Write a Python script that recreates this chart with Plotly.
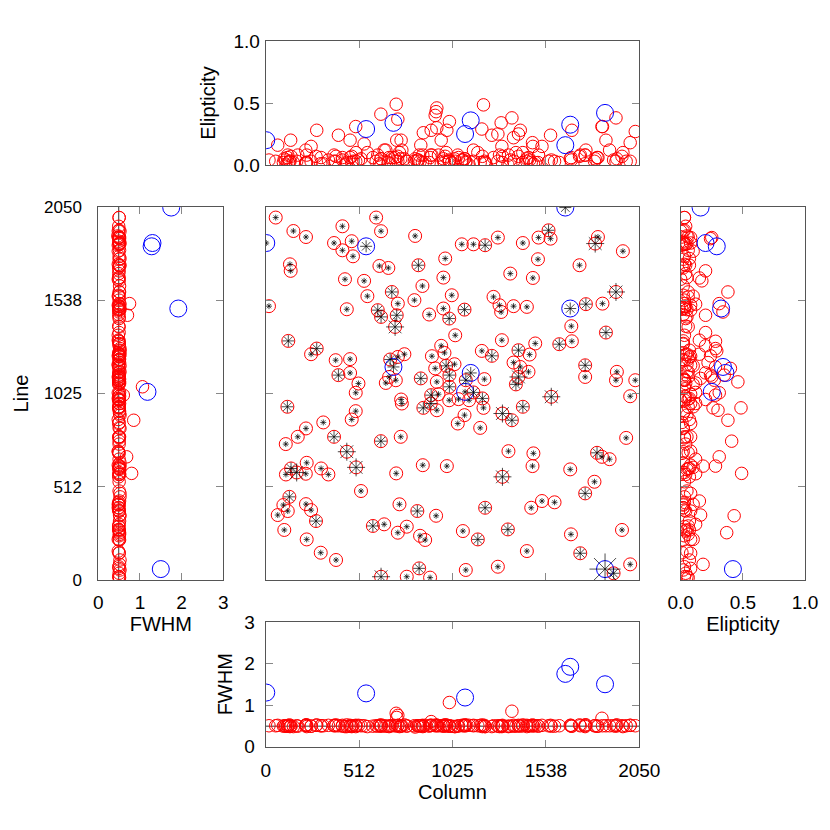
import plotly.graph_objects as go

# ---------------- data ----------------
red_col = [
    55, 152, 221, 421, 606, 633, 820, 375, 472, 421,
    479, 133, 137, 624, 673, 838, 985, 435, 540, 975,
    860, 692, 558, 816, 1021, 725, 18, 445, 615, 633,
    719, 897, 975, 1007, 1040, 124, 280, 249, 384, 463,
    399, 463, 509, 494, 683, 725, 761, 659, 714, 677,
    912, 963, 981, 930, 990, 1036, 851, 939, 1008, 1008,
    908, 948, 743, 1076, 1140, 1204, 1274, 1411, 1497, 1552,
    1563, 1823, 1808, 1960, 1494, 1722, 1342, 1466, 1922, 1250,
    1283, 1292, 1360, 1433, 1091, 1757, 1848, 1677, 1296, 1479,
    1387, 1611, 1680, 1867, 1186, 1241, 1448, 1360, 1397, 1442,
    1387, 1373, 1200, 1098, 1753, 1753, 1927, 1922, 2028, 1140,
    1007, 1058, 1116, 1189, 1195, 1091, 1054, 1177, 1299, 1351,
    1411, 1567, 2000, 1978, 1332, 1469, 1464, 1818, 1845, 1887,
    1671, 994, 1299, 1804, 1753, 1204, 1457, 1516, 1585, 1082,
    1164, 1329, 1675, 1955, 1433, 1726, 1098, 1274, 1909, 2000,
    119, 747, 494, 472, 316, 221, 176, 110, 375, 632,
    741, 865, 906, 939, 445, 496, 225, 139, 170, 220,
    111, 304, 344, 862, 716, 523, 130, 97, 121, 66,
    221, 249, 276, 102, 734, 832, 935, 588, 650, 725,
    774, 847, 875, 225, 302, 386, 633, 774, 902, 842,
    710,
]
red_line = [
    1992, 1918, 1885, 1944, 1992, 1917, 1891, 1852, 1862, 1812,
    1779, 1735, 1699, 1726, 1715, 1730, 1767, 1653, 1644, 1662,
    1616, 1583, 1560, 1538, 1565, 1519, 1505, 1488, 1483, 1446,
    1455, 1459, 1492, 1437, 1345, 1314, 1272, 1241, 1208, 1214,
    1126, 1138, 1080, 1029, 1212, 1226, 1241, 1083, 1098, 1116,
    1230, 1287, 1248, 1163, 1177, 1186, 1108, 1089, 1126, 1062,
    1016, 1021, 992, 1845, 1845, 1840, 1882, 1852, 1882, 1922,
    1876, 1885, 1849, 1807, 1763, 1730, 1684, 1660, 1583, 1556,
    1510, 1473, 1505, 1501, 1486, 1516, 1519, 1395, 1318, 1300,
    1263, 1296, 1312, 1360, 1259, 1232, 1239, 1195, 1171, 1144,
    1116, 1075, 1104, 1098, 1180, 1116, 1144, 1098, 1098, 1031,
    988, 994, 988, 998, 946, 906, 860, 836, 915, 878,
    952, 1007, 1010, 781, 708, 696, 626, 699, 677, 664,
    608, 626, 567, 540, 476, 397, 397, 434, 427, 269,
    223, 278, 251, 275, 159, 147, 55, 73, 37, 86,
    952, 970, 928, 882, 866, 833, 787, 747, 787, 763,
    787, 946, 970, 933, 705, 619, 644, 613, 591, 584,
    580, 613, 580, 631, 586, 489, 457, 412, 379, 357,
    417, 384, 324, 275, 416, 379, 353, 297, 306, 260,
    293, 243, 220, 223, 150, 110, 18, 18, 13, 64,
    1391,
]
# brightness class of each star (drives the asterisk size)
red_bright = [
    1, 1, 1, 1, 1, 1, 1, 1, 1, 1,
    1, 1, 1, 1, 1, 2, 1, 1, 1, 1,
    1, 2, 1, 1, 1, 1, 1, 1, 2, 2,
    2, 1, 1, 2, 1, 2, 2, 1, 1, 1,
    2, 1, 1, 1, 2, 1, 1, 1, 1, 1,
    1, 1, 1, 1, 2, 1, 2, 1, 2, 2,
    2, 1, 1, 1, 1, 2, 1, 1, 1, 2,
    1, 1, 3, 1, 1, 1, 1, 1, 3, 1,
    1, 1, 1, 1, 2, 2, 1, 1, 1, 1,
    2, 2, 1, 2, 1, 2, 1, 1, 1, 1,
    3, 2, 1, 2, 2, 1, 1, 1, 1, 2,
    1, 1, 1, 2, 1, 1, 1, 1, 3, 2,
    2, 3, 1, 1, 1, 1, 1, 2, 1, 1,
    1, 1, 3, 1, 2, 2, 1, 1, 1, 1,
    2, 2, 1, 1, 1, 2, 1, 1, 2, 1,
    2, 1, 1, 1, 1, 1, 1, 1, 2, 2,
    1, 2, 2, 1, 3, 3, 1, 2, 3, 1,
    1, 1, 1, 1, 1, 1, 2, 1, 1, 1,
    1, 1, 2, 1, 1, 2, 1, 2, 1, 1,
    1, 1, 1, 1, 1, 1, 3, 1, 1, 2,
    3,
]
red_ell = [
    0.03, 0.02, 0.01, 0.04, 0.03, 0.00, 0.05, 0.08, 0.02, 0.06,
    0.03, 0.03, 0.20, 0.01, 0.02, 0.04, 0.07, 0.00, 0.17, 0.05,
    0.02, 0.06, 0.10, 0.03, 0.02, 0.03, 0.04, 0.01, 0.08, 0.05,
    0.20, 0.02, 0.03, 0.04, 0.03, 0.02, 0.28, 0.15, 0.03, 0.06,
    0.24, 0.20, 0.04, 0.31, 0.01, 0.07, 0.05, 0.12, 0.03, 0.06,
    0.08, 0.20, 0.02, 0.40, 0.10, 0.05, 0.16, 0.46, 0.35, 0.03,
    0.28, 0.08, 0.20, 0.04, 0.03, 0.01, 0.25, 0.02, 0.08, 0.03,
    0.24, 0.06, 0.05, 0.10, 0.02, 0.07, 0.04, 0.15, 0.38, 0.06,
    0.08, 0.34, 0.03, 0.03, 0.05, 0.12, 0.31, 0.04, 0.15, 0.02,
    0.07, 0.02, 0.28, 0.20, 0.29, 0.24, 0.04, 0.22, 0.28, 0.06,
    0.25, 0.10, 0.03, 0.03, 0.08, 0.01, 0.05, 0.03, 0.27, 0.12,
    0.03, 0.06, 0.00, 0.07, 0.485, 0.05, 0.08, 0.02, 0.02, 0.38,
    0.10, 0.04, 0.03, 0.03, 0.08, 0.01, 0.18, 0.06, 0.31, 0.12,
    0.05, 0.28, 0.07, 0.03, 0.08, 0.02, 0.02, 0.15, 0.03, 0.04,
    0.10, 0.00, 0.06, 0.07, 0.05, 0.08, 0.02, 0.03, 0.04, 0.18,
    0.06, 0.12, 0.03, 0.07, 0.01, 0.02, 0.08, 0.04, 0.03, 0.41,
    0.05, 0.26, 0.08, 0.30, 0.02, 0.10, 0.02, 0.07, 0.03, 0.12,
    0.00, 0.06, 0.04, 0.08, 0.49, 0.05, 0.03, 0.02, 0.08, 0.16,
    0.02, 0.03, 0.07, 0.05, 0.10, 0.04, 0.43, 0.06, 0.12, 0.37,
    0.03, 0.03, 0.02, 0.08, 0.01, 0.07, 0.05, 0.03, 0.06, 0.08,
    0.06,
]
red_fwhm = [
    0.50, 0.48, 0.51, 0.49, 0.50, 0.52, 0.47, 0.50, 0.49, 0.51,
    0.50, 0.48, 0.50, 0.51, 0.49, 0.50, 0.52, 0.48, 0.50, 0.49,
    0.51, 0.50, 0.48, 0.50, 0.49, 0.75, 0.50, 0.52, 0.49, 0.50,
    0.70, 0.49, 0.51, 0.50, 0.48, 0.50, 0.52, 0.49, 0.50, 0.51,
    0.50, 0.49, 0.51, 0.48, 0.50, 0.50, 0.52, 0.49, 0.50, 0.48,
    0.51, 0.50, 0.49, 0.50, 0.52, 0.48, 0.50, 0.51, 0.49, 1.06,
    0.60, 0.50, 0.49, 0.51, 0.50, 0.48, 0.50, 0.52, 0.49, 0.50,
    0.51, 0.49, 0.50, 0.48, 0.50, 0.52, 0.49, 0.50, 0.51, 0.50,
    0.48, 0.50, 0.49, 0.51, 0.50, 0.52, 0.50, 0.49, 0.48, 0.50,
    0.51, 0.50, 0.49, 0.50, 0.52, 0.48, 0.50, 0.51, 0.49, 0.50,
    0.50, 0.49, 0.51, 0.50, 0.48, 0.50, 0.52, 0.49, 0.50, 0.51,
    0.49, 0.50, 0.51, 0.48, 0.50, 0.52, 0.49, 0.50, 0.51, 0.85,
    0.50, 0.49, 0.51, 0.50, 0.48, 0.50, 0.52, 0.49, 0.68, 0.50,
    0.51, 0.50, 0.49, 0.50, 0.52, 0.48, 0.50, 0.51, 0.49, 0.50,
    0.50, 0.49, 0.51, 0.50, 0.48, 0.50, 0.52, 0.49, 0.50, 0.51,
    0.49, 0.50, 0.51, 0.48, 0.50, 0.52, 0.49, 0.50, 0.51, 0.50,
    0.50, 0.49, 0.51, 0.50, 0.48, 0.50, 0.52, 0.49, 0.50, 0.51,
    0.49, 0.50, 0.51, 0.48, 0.80, 0.50, 0.52, 0.49, 0.50, 0.51,
    0.50, 0.49, 0.51, 0.50, 0.48, 0.50, 0.52, 0.49, 0.50, 0.51,
    0.49, 0.50, 0.51, 0.48, 0.50, 0.52, 0.49, 0.50, 0.51, 0.50,
    0.50,
]

blue_col = [3, 551, 701, 1094, 1125, 1644, 1671, 1862]
blue_line = [1852, 1834, 1171, 1034, 1138, 2047, 1492, 60]
blue_ell = [0.20, 0.29, 0.34, 0.25, 0.36, 0.16, 0.325, 0.42]
blue_fwhm = [1.30, 1.28, None, 1.18, None, 1.75, 1.92, 1.50]
blue_bright = [1, 2, 2, 1, 2, 2, 2, 4]

median_fwhm = 0.49

pos_ticks = [0, 512.5, 1025, 1537.5, 2050]
pos_text = ["0", "512", "1025", "1538", "2050"]
ell_ticks = [0, 0.5, 1.0]
ell_text = ["0.0", "0.5", "1.0"]
fwhm_ticks = [0, 1, 2, 3]
fwhm_text = ["0", "1", "2", "3"]

# ---------------- styling ----------------
assert len(red_col) == len(red_line) == len(red_bright) == len(red_ell) == len(red_fwhm)

OFF = 8          # default page margin of the html body
W = 814          # figure size, so that OFF + W fits the 830 window
FAMILY = "Liberation Sans, Arial, Helvetica, sans-serif"
TITLE_FONT = dict(family=FAMILY, size=20, color="black")
RED = "rgb(255,0,0)"
BLUE = "rgb(0,0,255)"
AST_SIZE = {1: 5, 2: 10, 3: 15, 4: 26}


def dx(a, b):
    return [(a - OFF) / W, (b - OFF) / W]


def dy(top, bottom):
    return [1 - (bottom - OFF) / W, 1 - (top - OFF) / W]


DOM_MX = dx(265.7, 639.3)
DOM_MY = dy(207, 580)
DOM_TOPY = dy(41, 165)
DOM_LX = dx(98.3, 223.3)
DOM_RX = dx(680.7, 805)
DOM_BOTY = dy(622, 746.5)


def ax(domain, rng, anchor, tickvals, ticktext, labels, title=None, standoff=5,
       tsize=19, lab_off=2):
    d = dict(
        domain=domain, range=rng, anchor=anchor,
        showline=True, linecolor="#555", linewidth=1, mirror="ticks",
        ticks="inside", ticklen=7, tickwidth=1, tickcolor="#888",
        tickvals=tickvals, ticktext=ticktext, showticklabels=labels,
        showgrid=False, zeroline=False,
        tickfont=dict(family=FAMILY, size=tsize, color="black"),
        ticklabelstandoff=lab_off,
    )
    if title:
        d["title"] = dict(text=title, font=TITLE_FONT, standoff=standoff)
    return d


def circles(x, y, xa, ya, color, size):
    return go.Scatter(
        x=x, y=y, xaxis=xa, yaxis=ya, mode="markers", showlegend=False,
        hoverinfo="skip", cliponaxis=True,
        marker=dict(symbol="circle-open", size=size, color=color,
                    line=dict(width=1, color=color)),
    )


fig = go.Figure()

# centre panel: Column vs Line
fig.add_trace(circles(red_col, red_line, "x", "y", RED, 13))
fig.add_trace(circles(blue_col, blue_line, "x", "y", BLUE, 17))
fig.add_trace(go.Scatter(
    x=red_col + blue_col, y=red_line + blue_line, xaxis="x", yaxis="y",
    mode="markers", showlegend=False, hoverinfo="skip",
    marker=dict(symbol="asterisk-open",
                size=[AST_SIZE[b] for b in red_bright + blue_bright],
                color="black", line=dict(width=1, color="black")),
))

# top panel: Column vs Ellipticity
fig.add_trace(circles(red_col, red_ell, "x2", "y2", RED, 12.5))
fig.add_trace(circles(blue_col, blue_ell, "x2", "y2", BLUE, 17))

# left panel: FWHM vs Line
fig.add_trace(circles(red_fwhm, red_line, "x3", "y3", RED, 12.5))
fig.add_trace(circles(blue_fwhm, blue_line, "x3", "y3", BLUE, 17))

# right panel: Ellipticity vs Line
fig.add_trace(circles(red_ell, red_line, "x4", "y4", RED, 12.5))
fig.add_trace(circles(blue_ell, blue_line, "x4", "y4", BLUE, 17))

# bottom panel: Column vs FWHM
fig.add_trace(circles(red_col, red_fwhm, "x5", "y5", RED, 12.5))
fig.add_trace(circles(blue_col, blue_fwhm, "x5", "y5", BLUE, 17))

fig.update_layout(
    width=W, height=W, autosize=False,
    margin=dict(l=0, r=0, t=0, b=0),
    paper_bgcolor="white", plot_bgcolor="white",
    template="none", font=TITLE_FONT, showlegend=False,
    xaxis=ax(DOM_MX, [0, 2050], "y", pos_ticks, pos_text, False),
    yaxis=ax(DOM_MY, [0, 2050], "x", pos_ticks, pos_text, False),
    xaxis2=ax(DOM_MX, [0, 2050], "y2", pos_ticks, pos_text, False),
    yaxis2=ax(DOM_TOPY, [0, 1], "x2", ell_ticks, ell_text, True, "Elipticity", 12,
              tsize=19, lab_off=1),
    xaxis3=ax(DOM_LX, [0, 3], "y3", fwhm_ticks, fwhm_text, True, "FWHM", 5,
              tsize=19, lab_off=5),
    yaxis3=ax(DOM_MY, [0, 2050], "x3", pos_ticks, pos_text, True, "Line", 10,
              tsize=17, lab_off=12),
    xaxis4=ax(DOM_RX, [0, 1], "y4", ell_ticks, ell_text, True, "Elipticity", 5,
              tsize=19, lab_off=5),
    yaxis4=ax(DOM_MY, [0, 2050], "x4", pos_ticks, pos_text, False),
    xaxis5=ax(DOM_MX, [0, 2050], "y5", pos_ticks, pos_text, True, "Column", 3,
              tsize=19, lab_off=7),
    yaxis5=ax(DOM_BOTY, [0, 3], "x5", fwhm_ticks, fwhm_text, True, "FWHM", 6,
              tsize=19, lab_off=6),
    shapes=[
        dict(type="line", xref="x3", x0=median_fwhm, x1=median_fwhm,
             yref="y3 domain", y0=0, y1=1, line=dict(color="#333", width=1), layer="below"),
        dict(type="line", yref="y5", y0=median_fwhm, y1=median_fwhm,
             xref="x5 domain", x0=0, x1=1, line=dict(color="#333", width=1), layer="below"),
    ],
)

fig.write_html("out.html")
